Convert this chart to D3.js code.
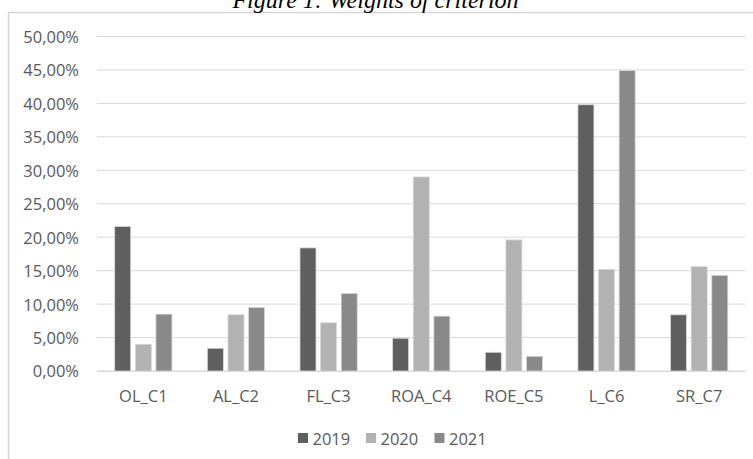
<!DOCTYPE html>
<html>
<head>
<meta charset="utf-8">
<script src="https://cdn.jsdelivr.net/npm/d3@7"></script>
<style>
  html, body { margin: 0; padding: 0; background: #ffffff; }
  svg { display: block; }
</style>
</head>
<body>
<svg id="chart" width="753" height="459"></svg>
<script>
const categories = ["OL_C1", "AL_C2", "FL_C3", "ROA_C4", "ROE_C5", "L_C6", "SR_C7"];
const seriesNames = ["2019", "2020", "2021"];
const values2019 = [21.6, 3.4, 18.4, 4.9, 2.8, 39.8, 8.4];
const values2020 = [4.0, 8.4, 7.2, 29.0, 19.6, 15.2, 15.6];
const values2021 = [8.5, 9.5, 11.6, 8.2, 2.2, 44.9, 14.3];
const yTicks = [0, 5, 10, 15, 20, 25, 30, 35, 40, 45, 50];
const colors = ["#5f5f5f", "#b2b2b2", "#898989"];
const titleText = "Figure 1: Weights of criterion";

const seriesValues = [values2019, values2020, values2021];
const data = categories.map((c, i) => ({
  cat: c,
  vals: seriesNames.map((s, j) => ({ key: s, value: seriesValues[j][i] }))
}));

const svg = d3.select("#chart");
const font = "'Open Sans', 'Noto Sans', sans-serif";
const textColor = "#595959";

// outer chart border (cut off at right / bottom)
svg.append("rect")
  .attr("x", 8.5).attr("y", 12.5)
  .attr("width", 800).attr("height", 500)
  .attr("fill", "none")
  .attr("stroke", "#d6d6d6")
  .attr("stroke-width", 1.5);

// title (partially cut at top)
svg.append("text")
  .attr("x", 375.5).attr("y", 7.5)
  .attr("text-anchor", "middle")
  .attr("font-family", "'Liberation Serif', 'Times New Roman', serif")
  .attr("font-style", "italic")
  .attr("font-size", 24)
  .attr("fill", "#000")
  .text(titleText);

const x0 = d3.scaleBand().domain(categories).range([97, 745.5]).padding(0);
const x1 = d3.scaleBand().domain(seriesNames).range([0, x0.bandwidth()])
  .paddingInner(0.223).paddingOuter(0.858);
const y = d3.scaleLinear().domain([0, 50]).range([371, 36.5]);
const color = d3.scaleOrdinal().domain(seriesNames).range(colors);

// gridlines
svg.append("g").selectAll("line")
  .data(yTicks)
  .join("line")
  .attr("x1", 97).attr("x2", 745.5)
  .attr("y1", d => y(d)).attr("y2", d => y(d))
  .attr("stroke", "#d9d9d9")
  .attr("stroke-width", 1);

// y axis labels
const yAxis = d3.axisLeft(y)
  .tickValues(yTicks)
  .tickSize(0)
  .tickPadding(0)
  .tickFormat(d => d.toFixed(2).replace(".", ",") + "%");
const gy = svg.append("g").attr("transform", "translate(79,0)").call(yAxis);
gy.select(".domain").remove();
gy.selectAll("text")
  .attr("font-family", font)
  .attr("font-size", 16.5)
  .attr("fill", textColor)
  .attr("dy", "0.36em");

// bars
const groups = svg.append("g").selectAll("g")
  .data(data)
  .join("g")
  .attr("transform", d => `translate(${x0(d.cat)},0)`);
groups.selectAll("rect")
  .data(d => d.vals)
  .join("rect")
  .attr("x", d => x1(d.key))
  .attr("width", x1.bandwidth())
  .attr("y", d => y(d.value))
  .attr("height", d => y(0) - y(d.value))
  .attr("fill", d => color(d.key))
  .attr("stroke", "#d9d9d9")
  .attr("stroke-width", 0.8);

// x axis
const xAxis = d3.axisBottom(x0).tickSize(0).tickPadding(0);
const gx = svg.append("g").attr("transform", "translate(0,371)").call(xAxis);
gx.select(".domain")
  .attr("stroke", "#d9d9d9")
  .attr("stroke-width", 1.2);
gx.selectAll("text")
  .attr("font-family", font)
  .attr("font-size", 16.5)
  .attr("fill", textColor)
  .attr("dy", 0)
  .attr("y", 31);

// legend
const legendX = [298, 366, 434.5];
const legend = svg.append("g").selectAll("g")
  .data(seriesNames)
  .join("g")
  .attr("transform", (d, i) => `translate(${legendX[i]},433)`);
legend.append("rect")
  .attr("width", 10).attr("height", 10)
  .attr("fill", d => color(d));
legend.append("text")
  .attr("x", 14.5).attr("y", 12)
  .attr("font-family", font)
  .attr("font-size", 16.5)
  .attr("fill", textColor)
  .text(d => d);
</script>
</body>
</html>
